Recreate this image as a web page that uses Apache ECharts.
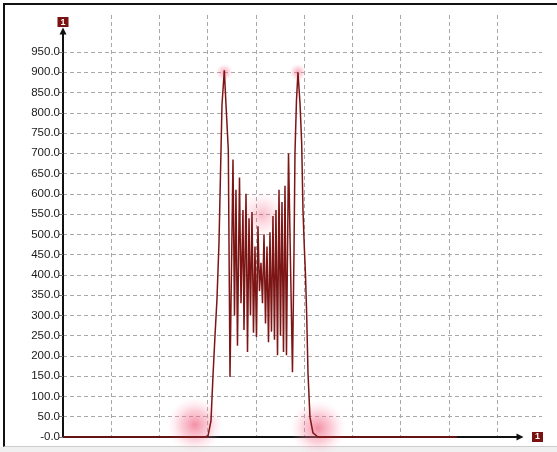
<!DOCTYPE html>
<html>
<head>
<meta charset="utf-8">
<script src="https://cdn.jsdelivr.net/npm/echarts@6/dist/echarts.min.js"></script>
<style>
html,body{margin:0;padding:0;background:#fff;}
#wrap{position:relative;width:557px;height:452px;overflow:hidden;background:#fff;}
#frame{position:absolute;left:3px;top:3px;width:600px;height:441px;border-left:2px solid #111;border-top:2px solid #111;border-bottom:1px solid #ccc;}
#bottomStrip{position:absolute;left:0;top:447px;width:557px;height:5px;background:#f0f0f0;}
#chart{position:absolute;left:0;top:0;width:557px;height:452px;}
</style>
</head>
<body>
<div id="wrap">
<div id="frame"></div>
<div id="bottomStrip"></div>
<div id="chart"></div>
</div>
<script>
// ---- data ----
const xValues = [0, 28.40, 29.44, 30.06, 30.68, 31.09, 31.51, 31.92, 32.34, 32.65, 32.96, 33.44, 33.79, 34.27,
  34.62, 35.24, 35.55, 35.86, 36.17, 36.59, 36.90, 37.31, 37.52, 37.94, 38.25, 38.56, 38.87, 39.18, 39.49,
  39.80, 40.11, 40.42, 40.73, 41.04, 41.36, 41.67, 41.98, 42.29, 42.60, 42.91, 43.22, 43.53, 43.84, 44.15,
  44.47, 44.78, 45.09, 45.40, 45.71, 46.02, 46.33, 46.75, 47.57, 47.89, 48.09, 48.40, 48.71, 49.13, 49.48,
  49.75, 50.02, 50.27, 50.52, 50.79, 51.20, 51.82, 52.86, 81.67];
const yValues = [0, 0, 0, 3, 40, 150, 250, 340, 480, 650, 820, 905, 820, 708,
  148, 685, 300, 610, 225, 640, 330, 560, 264, 600, 210, 540, 300, 555, 257,
  470, 247, 520, 360, 430, 330, 500, 280, 470, 234, 505, 260, 545, 240, 560,
  202, 610, 250, 580, 210, 620, 202, 700, 160, 460, 700, 830, 900, 824, 725,
  560, 470, 400, 300, 158, 49, 10, 0, 0];
const peakGlowPoints = [[33.44, 900], [48.71, 900]];
const centerGlowPoints = [[41.25, 548]];
const baseGlowPoints = [[27.36, 30], [52.86, 22]];
const yTickMin = 0, yTickMax = 950, yTickStep = 50;
const xMin = 0, xMax = 99.3, xStep = 10;
const axisNameX = '1', axisNameY = '1';

// ---- chart ----
const chart = echarts.init(document.getElementById('chart'), null, {renderer: 'canvas'});
const lineData = xValues.map((x, i) => [x, yValues[i]]);
const glow = (alphaIn, alphaMid) => ({
  type: 'radial', x: 0.5, y: 0.5, r: 0.5,
  colorStops: [
    {offset: 0, color: 'rgba(236,70,105,' + alphaIn + ')'},
    {offset: 0.5, color: 'rgba(245,120,150,' + alphaMid + ')'},
    {offset: 1, color: 'rgba(255,200,215,0)'}
  ]
});
const nameBox = {
  backgroundColor: '#7a1212', color: '#fff', fontSize: 9, fontWeight: 'bold',
  padding: [1, 3, 0, 3], fontFamily: 'Liberation Sans'
};
chart.setOption({
  animation: false,
  backgroundColor: 'transparent',
  grid: [
    {left: 63, right: 15, top: 52, bottom: 15},
    {left: 63, right: 15, top: 15, bottom: 15},
    {left: 63, right: 37, top: 31, bottom: 15}
  ],
  xAxis: [
    {gridIndex: 0, type: 'value', min: xMin, max: xMax, interval: xStep, show: false},
    {gridIndex: 1, type: 'value', min: xMin, max: xMax, interval: xStep,
      axisLine: {show: false}, axisTick: {show: false}, axisLabel: {show: false},
      splitLine: {show: true, showMinLine: false, showMaxLine: false,
        lineStyle: {color: '#a8a8a8', type: [4, 3], width: 1}}},
    {gridIndex: 2, type: 'value', min: 0, max: 1,
      axisLine: {show: true, symbol: ['none', 'triangle'], symbolSize: [7, 7],
        lineStyle: {color: '#111', width: 2}},
      axisTick: {show: false}, axisLabel: {show: false}, splitLine: {show: false},
      name: axisNameX, nameLocation: 'end', nameGap: 12,
      nameTextStyle: Object.assign({}, nameBox, {verticalAlign: 'middle', align: 'left'})}
  ],
  yAxis: [
    {gridIndex: 0, type: 'value', min: yTickMin, max: yTickMax, interval: yTickStep,
      axisLine: {show: false},
      axisTick: {show: true, length: 4, lineStyle: {color: '#777'}},
      axisLabel: {margin: 3, color: '#1a1a1a', fontSize: 11.5, fontFamily: 'Liberation Sans',
        formatter: v => v === 0 ? '-0.0' : v.toFixed(1)},
      splitLine: {show: true, showMinLine: false, showMaxLine: true,
        lineStyle: {color: '#a8a8a8', type: [4, 3], width: 1}}},
    {gridIndex: 1, type: 'value', min: 0, max: 1, show: false},
    {gridIndex: 2, type: 'value', min: 0, max: 1,
      axisLine: {show: true, symbol: ['none', 'triangle'], symbolSize: [7, 7],
        lineStyle: {color: '#111', width: 2}},
      axisTick: {show: false}, axisLabel: {show: false}, splitLine: {show: false},
      name: axisNameY, nameLocation: 'end', nameGap: 4,
      nameTextStyle: Object.assign({}, nameBox, {align: 'center'})}
  ],
  series: [
    {type: 'scatter', xAxisIndex: 0, yAxisIndex: 0, data: baseGlowPoints, symbolSize: 56,
      itemStyle: {color: glow(0.75, 0.45)}, silent: true, z: 1},
    {type: 'scatter', xAxisIndex: 0, yAxisIndex: 0, data: centerGlowPoints, symbolSize: 50,
      itemStyle: {color: glow(0.45, 0.22)}, silent: true, z: 1},
    {type: 'scatter', xAxisIndex: 0, yAxisIndex: 0, data: peakGlowPoints, symbolSize: 18,
      itemStyle: {color: glow(0.6, 0.35)}, silent: true, z: 1},
    {type: 'line', xAxisIndex: 0, yAxisIndex: 0, data: lineData, showSymbol: false,
      lineStyle: {color: '#7d1515', width: 1.5}, z: 5, clip: false}
  ]
});
</script>
</body>
</html>
